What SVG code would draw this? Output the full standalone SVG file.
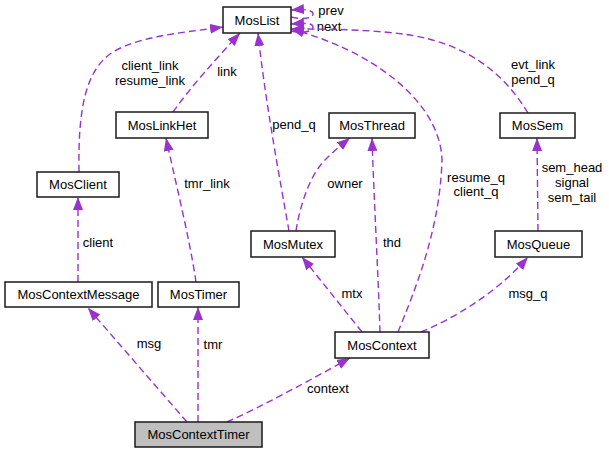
<svg xmlns="http://www.w3.org/2000/svg" width="609" height="453" viewBox="0 0 609 453">
  <defs>
    <marker id="arrow" markerWidth="14" markerHeight="11" refX="13" refY="5" orient="auto" markerUnits="userSpaceOnUse">
      <path d="M0,0 L13,5 L0,10 z" fill="#9a32cd" stroke="none"/>
    </marker>
    <style>
      .node rect { fill: #ffffff; stroke: #1a1a1a; stroke-width: 1.5; }
      .node.focus rect { fill: #bfbfbf; }
      .node text { font-family: "Liberation Sans", Arial, Helvetica, sans-serif; font-size: 13px; fill: #000000; text-anchor: middle; }
      .edges path { fill: none; stroke: #9a32cd; stroke-width: 1.4; stroke-dasharray: 7,4; marker-end: url(#arrow); }
      .edges text { font-family: "Liberation Sans", Arial, Helvetica, sans-serif; font-size: 13px; fill: #000000; text-anchor: middle; }
    </style>
  </defs>
  <rect x="0" y="0" width="609" height="453" fill="#ffffff"/>

  <!-- connectors: dashed usage relations, arrow points at the used class -->
  <g id="edges" class="edges">
    <!-- MosList self references -->
    <path d="M291,17 C304,20 313,18 313,14 C313,10 305,9 291,10"/>
    <text x="331" y="15">prev</text>
    <path d="M291,31 C304,34 313,31 313,27 C313,23 305,23 291,24"/>
    <text x="329" y="31">next</text>

    <!-- MosClient -> MosList -->
    <path d="M79,172 C78,110 85,70 113,52 C140,36 180,33 223,27"/>
    <text x="150" y="70">client_link</text>
    <text x="150" y="85">resume_link</text>

    <!-- MosLinkHet -> MosList -->
    <path d="M173,112 C190,88 215,60 240,33"/>
    <text x="227" y="76">link</text>

    <!-- MosMutex -> MosList -->
    <path d="M289,231 C280,180 265,100 258,33"/>
    <text x="294" y="129">pend_q</text>

    <!-- MosContext -> MosList -->
    <path d="M398,332 C415,290 440,230 442,160 C440,100 370,50 291,29"/>
    <text x="476" y="182">resume_q</text>
    <text x="476" y="196">client_q</text>

    <!-- MosSem -> MosList -->
    <path d="M528,113 C505,75 470,45 410,35 C370,29 320,29 291,29"/>
    <text x="533" y="69">evt_link</text>
    <text x="533" y="84">pend_q</text>

    <!-- MosMutex -> MosThread -->
    <path d="M296,231 C300,205 310,175 325,160 C332,153 340,146 350,138"/>
    <text x="345" y="188">owner</text>

    <!-- MosContext -> MosThread -->
    <path d="M380,332 C378,270 374,200 372,138"/>
    <text x="392" y="247">thd</text>

    <!-- MosContext -> MosMutex -->
    <path d="M362,332 L302,257"/>
    <text x="352" y="298">mtx</text>

    <!-- MosContext -> MosQueue -->
    <path d="M421,332 C450,320 495,295 528,257"/>
    <text x="528" y="298">msg_q</text>

    <!-- MosQueue -> MosSem -->
    <path d="M538,231 L537,138"/>
    <text x="572" y="172">sem_head</text>
    <text x="572" y="187">signal</text>
    <text x="572" y="202">sem_tail</text>

    <!-- MosContextMessage -> MosClient -->
    <path d="M78,282 L78,197"/>
    <text x="98" y="247">client</text>

    <!-- MosTimer -> MosLinkHet -->
    <path d="M196,282 C190,240 175,180 166,138"/>
    <text x="207" y="188">tmr_link</text>

    <!-- MosContextTimer -> MosContextMessage -->
    <path d="M187,422 L88,308"/>
    <text x="149" y="348">msg</text>

    <!-- MosContextTimer -> MosTimer -->
    <path d="M198,422 L198,307"/>
    <text x="213" y="349">tmr</text>

    <!-- MosContextTimer -> MosContext -->
    <path d="M227,422 C265,405 310,380 350,358"/>
    <text x="328" y="393">context</text>
  </g>

  <!-- class nodes -->
  <g id="MosList" class="node">
    <rect x="223" y="7" width="68" height="26"/>
    <text x="257" y="24.5">MosList</text>
  </g>
  <g id="MosLinkHet" class="node">
    <rect x="116" y="112" width="92" height="26"/>
    <text x="162" y="129.5">MosLinkHet</text>
  </g>
  <g id="MosThread" class="node">
    <rect x="329" y="113" width="86" height="25"/>
    <text x="372" y="130">MosThread</text>
  </g>
  <g id="MosSem" class="node">
    <rect x="500" y="113" width="75" height="25"/>
    <text x="537.5" y="130">MosSem</text>
  </g>
  <g id="MosClient" class="node">
    <rect x="37" y="172" width="82" height="25"/>
    <text x="78" y="189">MosClient</text>
  </g>
  <g id="MosMutex" class="node">
    <rect x="251" y="231" width="84" height="26"/>
    <text x="293" y="248.5">MosMutex</text>
  </g>
  <g id="MosQueue" class="node">
    <rect x="495" y="231" width="87" height="26"/>
    <text x="538.5" y="248.5">MosQueue</text>
  </g>
  <g id="MosContextMessage" class="node">
    <rect x="5" y="282" width="147" height="25"/>
    <text x="78.5" y="299">MosContextMessage</text>
  </g>
  <g id="MosTimer" class="node">
    <rect x="158" y="282" width="81" height="25"/>
    <text x="198.5" y="299">MosTimer</text>
  </g>
  <g id="MosContext" class="node">
    <rect x="335" y="332" width="94" height="26"/>
    <text x="382" y="349.5">MosContext</text>
  </g>
  <g id="MosContextTimer" class="node focus">
    <rect x="135" y="422" width="127" height="25"/>
    <text x="198.5" y="439">MosContextTimer</text>
  </g>
</svg>
